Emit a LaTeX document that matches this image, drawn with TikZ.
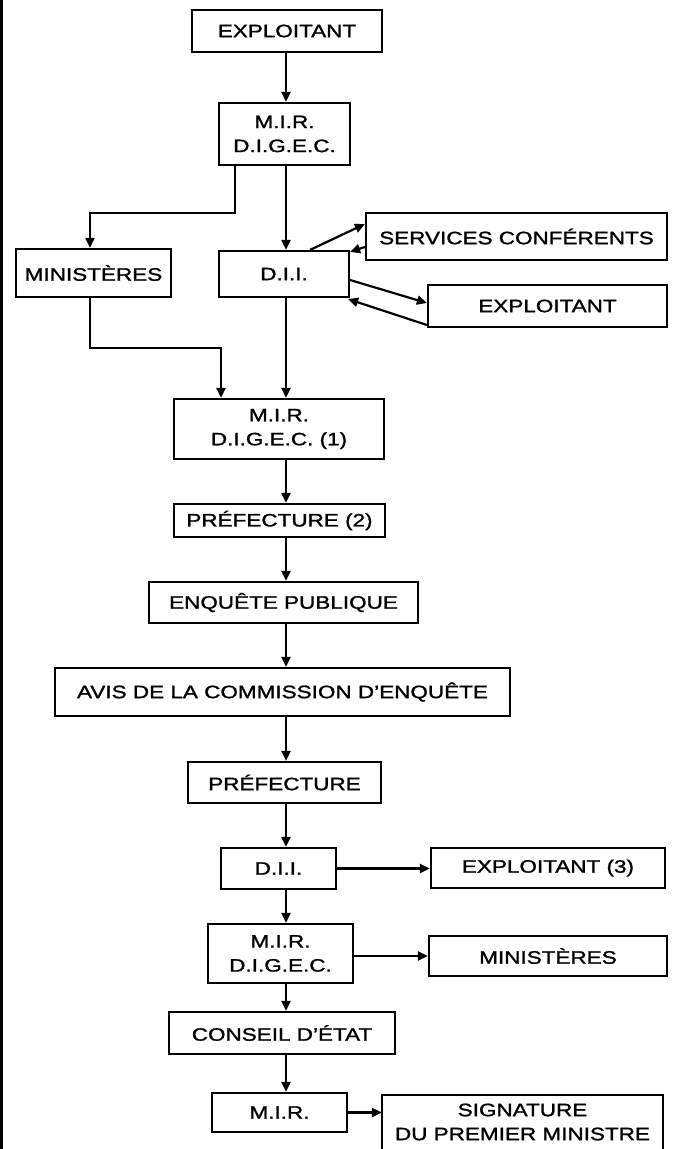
\documentclass[tikz,border=0pt]{standalone}
\usepackage{fontspec}
\setmainfont{Liberation Sans}[FakeStretch=1.25,FakeBold=1.3]
\usetikzlibrary{arrows.meta,calc}
\begin{document}
\begin{tikzpicture}[x=1pt,y=-1pt,
  box/.style={draw, line width=2.2pt, inner sep=0pt, align=center, font=\fontsize{18}{24}\selectfont},
  conn/.style={line width=2.2pt},
  arr/.style={conn, -{Triangle[length=10pt,width=9pt]}}]
\useasboundingbox (0,0) rectangle (673,1149);
\fill[white] (0,0) rectangle (673,1149);
\draw[line width=2.5pt] (1.25,0) -- (1.25,1149);
\coordinate (spine) at (286,0);

\node[box, minimum width=190pt, minimum height=42pt] (exp1) at (287,31) {EXPLOITANT};
\node[box, minimum width=131pt, minimum height=62pt] (mir1) at (284.5,134) {M.I.R.\\D.I.G.E.C.};
\node[box, minimum width=155pt, minimum height=48pt] (min1) at (93.5,273) {MINISTÈRES};
\node[box, minimum width=130pt, minimum height=46pt] (dii1) at (284,274) {D.I.I.};
\node[box, minimum width=301pt, minimum height=47pt] (serv) at (516.5,236.5) {SERVICES CONFÉRENTS};
\node[box, minimum width=239pt, minimum height=42pt] (exp2) at (547.5,306) {EXPLOITANT};
\node[box, minimum width=210pt, minimum height=60pt] (mir2) at (279,429) {M.I.R.\\D.I.G.E.C. (1)};
\node[box, minimum width=211pt, minimum height=33pt] (pref2) at (279.5,520.5) {PRÉFECTURE (2)};
\node[box, minimum width=269pt, minimum height=41pt] (enq) at (283.5,602.5) {ENQUÊTE PUBLIQUE};
\node[box, minimum width=455pt, minimum height=48pt] (avis) at (282.5,692) {AVIS DE LA COMMISSION D'ENQUÊTE};
\node[box, minimum width=193pt, minimum height=41pt] (pref) at (284.5,782.5) {PRÉFECTURE};
\node[box, minimum width=115pt, minimum height=41pt] (dii2) at (278.5,868.5) {D.I.I.};
\node[box, minimum width=234pt, minimum height=40pt] (exp3) at (548,868) {EXPLOITANT (3)};
\node[box, minimum width=145pt, minimum height=59pt] (mir3) at (280.5,953.5) {M.I.R.\\D.I.G.E.C.};
\node[box, minimum width=238pt, minimum height=40pt] (min2) at (548,956) {MINISTÈRES};
\node[box, minimum width=226pt, minimum height=42pt] (cons) at (282,1033) {CONSEIL D'ÉTAT};
\node[box, minimum width=135pt, minimum height=39pt] (mir4) at (279.5,1112.5) {M.I.R.};
\node[box, draw=none, minimum width=279pt, minimum height=52pt] (sig) at (522.5,1122) {SIGNATURE\\DU PREMIER MINISTRE};
\draw[conn] ([yshift=-12pt]sig.south west) -- (sig.north west) -- (sig.north east) -- ([yshift=-12pt]sig.south east);

% main spine
\draw[arr] (exp1.south -| spine) -- (mir1.north -| spine);
\draw[arr] (mir1.south -| spine) -- (dii1.north -| spine);
\draw[arr] (dii1.south -| spine) -- (mir2.north -| spine);
\draw[arr] (mir2.south -| spine) -- (pref2.north -| spine);
\draw[arr] (pref2.south -| spine) -- (enq.north -| spine);
\draw[arr] (enq.south -| spine) -- (avis.north -| spine);
\draw[arr] (avis.south -| spine) -- (pref.north -| spine);
\draw[arr] (pref.south -| spine) -- (dii2.north -| spine);
\draw[arr] (dii2.south -| spine) -- (mir3.north -| spine);
\draw[arr] (mir3.south -| spine) -- (cons.north -| spine);
\draw[arr] (cons.south -| spine) -- (mir4.north -| spine);

% branch to ministeres and back
\coordinate (b1) at (235,213);
\coordinate (lx) at (90,213);
\draw[arr] (mir1.south -| b1) -- (b1) -- (lx) -- (min1.north -| lx);
\coordinate (b2) at (90,348);
\coordinate (b3) at (221,348);
\draw[arr] (min1.south -| b2) -- (b2) -- (b3) -- (mir2.north -| b3);

% exchanges around D.I.I.
\draw[arr] ([xshift=26pt]dii1.north) -- ([yshift=12.5pt]serv.west);
\draw[arr] ([yshift=-10.5pt]serv.west) -- ([yshift=-2pt]dii1.north east);
\draw[arr] ([yshift=-6pt]dii1.east) -- ([yshift=3pt]exp2.west);
\draw[arr] ([yshift=-19pt]exp2.west) -- ([xshift=-2pt,yshift=-1pt]dii1.south east);

% side outputs
\draw[arr] (dii2.east) -- (exp3.west |- dii2.east);
\draw[arr] (mir3.east |- min2.west) -- (min2.west);
\draw[arr] (mir4.east) -- (sig.west |- mir4.east);
\end{tikzpicture}
\end{document}
